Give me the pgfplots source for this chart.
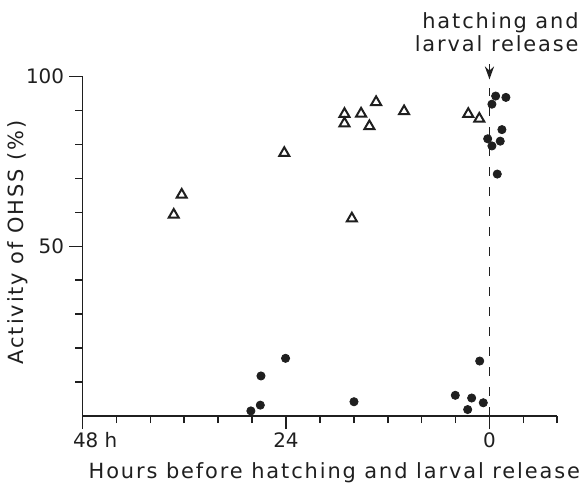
\documentclass[border=0pt]{standalone}
\usepackage{pgfplots}
\pgfplotsset{compat=1.18}
\usepackage{fontspec}
\setmainfont{DejaVu Sans}
\newfontfamily\spaced[LetterSpace=9]{DejaVu Sans}
\usetikzlibrary{arrows.meta}
\definecolor{ink}{gray}{0.12}
\begin{document}
\begin{tikzpicture}
\path[use as bounding box] (-41.25bp,-33.5bp) rectangle (250.75bp,208bp);
\begin{axis}[
  at={(0,0)}, anchor=south west,
  scale only axis, width=237.4bp, height=169.65bp,
  xmin=-48, xmax=8, ymin=0, ymax=100,
  axis lines=left,
  axis line style={-, line width=0.8bp, ink},
  clip=false,
  xtick={-48,-24,0}, xticklabels={\hphantom{44}48 h,24,0},
  minor xtick={-44,-40,...,8},
  ytick={50,100}, yticklabels={50,100},
  minor ytick={10,20,...,90},
  tick align=outside,
  major tick length=6.5bp, minor tick length=3.5bp,
  every tick/.style={line width=0.8bp, ink},
  tick label style={font=\fontsize{10}{12}\selectfont, text=ink},
  /pgf/number format/assume math mode=true,
  xticklabel style={inner sep=1.5bp},
  yticklabel style={inner sep=2.5bp},
  every axis x label/.style={at={(axis description cs:0,0)}, xshift=125.9bp, yshift=-31.2bp, anchor=base, inner sep=0pt, text=ink},
  every axis y label/.style={at={(axis description cs:0,0)}, xshift=-32.4bp, yshift=86.75bp, rotate=90, anchor=center, inner sep=0pt, text=ink},
  xlabel={\fontsize{10.5}{12}\selectfont\spaced Hours before hatching and larval release},
  ylabel={\fontsize{10.5}{12}\selectfont\spaced Activity of OHSS (\%)},
]
\addplot[ink, line width=0.65bp, dash pattern=on 4.5bp off 5.5bp] coordinates {(0,0) (0,96.6)};
\addplot[only marks, mark=triangle, mark size=2.9bp, mark options={line width=1bp, fill=white, draw=ink}] coordinates {
(-37.24,59.3) (-36.30,65.2) (-24.20,77.5) (-17.10,89.0) (-17.10,86.2) (-15.14,89.1)
(-14.16,85.4) (-13.37,92.5) (-10.07,89.8) (-16.23,58.2) (-2.50,89.0) (-1.20,87.6)
};
\addplot[only marks, mark=*, mark size=2.05bp, ink] coordinates {
(0.73,94.3) (1.94,93.9) (0.29,91.9) (1.47,84.4) (-0.21,81.7) (0.29,79.6) (1.27,81.0) (0.92,71.3)
(-1.15,16.2) (-4.03,6.1) (-2.10,5.3) (-2.57,1.9) (-0.73,3.9)
(-28.14,1.5) (-26.95,11.8) (-27.03,3.2) (-24.05,17.0) (-15.98,4.2)
};
\draw[-{Stealth[length=6.5bp,width=4.6bp]}, line width=0.7bp, ink] (axis cs:0,103.6) -- (axis cs:0,99.2);
\end{axis}
\node[anchor=base east, inner sep=0pt, text=ink] at (248.25bp,193.85bp) {\fontsize{10.5}{12}\selectfont\spaced hatching and};
\node[anchor=base east, inner sep=0pt, text=ink] at (248.25bp,182.15bp) {\fontsize{10.5}{12}\selectfont\spaced larval release};
\end{tikzpicture}
\end{document}
